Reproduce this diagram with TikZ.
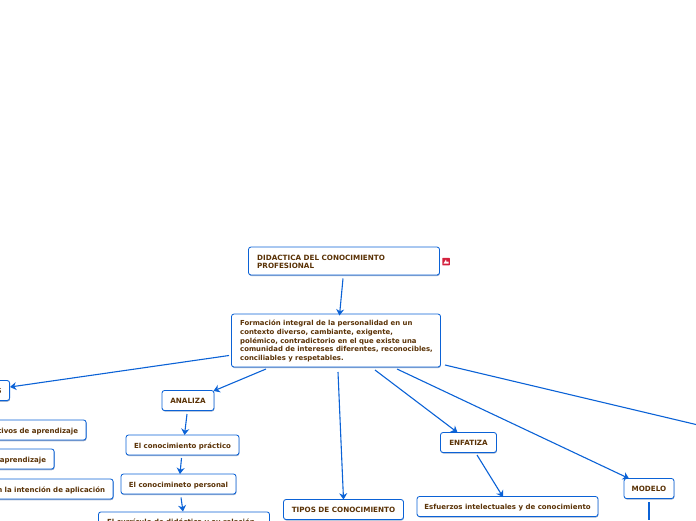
\documentclass[tikz,border=0pt]{standalone}
\usepackage{fontspec}
\setmainfont{DejaVu Sans}
\usetikzlibrary{arrows.meta,shadows}
\definecolor{linec}{HTML}{0B62D6}
\definecolor{textc}{HTML}{5A3206}
\definecolor{shadc}{HTML}{8FA3C4}
\definecolor{badgec}{HTML}{D4213D}
\tikzset{
  >={Stealth[length=2.2mm,width=2.8mm]},
  topic/.style={draw=linec,line width=0.85pt,rounded corners=2.5pt,fill=white,inner sep=0pt,
    font=\fontsize{7}{8.6}\selectfont\bfseries,text=textc,text height=6pt,text depth=0pt,
    drop shadow={shadow xshift=0.4pt,shadow yshift=-1pt,fill=shadc,opacity=0.9}},
  capstopic/.style={topic,font=\fontsize{7.2}{8.6}\selectfont\bfseries,text height=5.1pt},
  cuttopic/.style={topic,anchor=east,align=right,inner xsep=8pt,text width=#1-16},
  label/.style={anchor=west,align=left,inner sep=0pt,text=textc},
  ptr/.style={->,line width=1.1pt,draw=linec},
  ptrend/.style={line width=1.1pt,draw=linec},
}
\begin{document}
\begin{tikzpicture}[x=1pt,y=-1pt]
  \useasboundingbox (0,0) rectangle (696,520);
  \clip (0,0) rectangle (696,520);
  % top of the map
  \node[topic,minimum width=191,minimum height=28] (T) at (344,261) {};
  \node[label,font=\fontsize{7.2}{8.6}\selectfont\bfseries] (Tt) at (257,262) {DIDACTICA DEL CONOCIMIENTO\\PROFESIONAL};
  \node[fill=badgec,rounded corners=0.5pt,minimum size=7.5,inner sep=0pt] (B) at (446,261.5) {};
  \fill[white] (443.5,263.5) -- (446,259.5) -- (446.8,263.5) -- cycle (446.8,261.5) rectangle (448.6,263.6);
  \node[topic,minimum width=209,minimum height=53] (F) at (336,340.5) {};
  \node[label,font=\fontsize{6.9}{8.55}\selectfont\bfseries] (Ft) at (240,341) {Formación integral de la personalidad en un\\contexto diverso, cambiante, exigente,\\polémico, contradictorio en el que existe una\\comunidad de intereses diferentes, reconocibles,\\conciliables y respetables.};
  % left column
  \node[capstopic,cuttopic=30,minimum height=20] (L0) at (10,390.5) {S};
  \node[topic,cuttopic=180,minimum height=20] (L1) at (86.5,430) {Objetivos de aprendizaje};
  \node[topic,cuttopic=140,minimum height=20] (L2) at (54.5,459) {de aprendizaje};
  \node[topic,cuttopic=240,minimum height=20] (L3) at (113.5,489) {con la intención de aplicación};
  % ANALIZA branch
  \node[capstopic,minimum width=52,minimum height=20] (A) at (188,400.5) {ANALIZA};
  \node[topic,minimum width=113,minimum height=20] (A1) at (182.5,445) {El conocimiento práctico};
  \node[topic,minimum width=115,minimum height=20] (A2) at (178.5,484) {El conocimineto personal};
  \node[topic,minimum width=171,minimum height=21,anchor=north] (A3) at (184,511.5) {};
  \node[label,font=\fontsize{7}{8.6}\selectfont\bfseries] (A3t) at (107,522) {El currículo de didáctica y su relación};
  % middle and right
  \node[capstopic,minimum width=120,minimum height=20] (K) at (343.5,509.5) {TIPOS DE CONOCIMIENTO};
  \node[capstopic,minimum width=56,minimum height=20] (E) at (468.5,442.5) {ENFATIZA};
  \node[topic,minimum width=181,minimum height=20] (E1) at (507.5,506.5) {Esfuerzos intelectuales y de conocimiento};
  \node[capstopic,minimum width=50,minimum height=20] (M) at (649,488.5) {MODELO};
  \coordinate (Mb) at (649,520);
  \coordinate (Rr) at (696,424.5);
  % connectors
  \draw[ptr] (343,278.5) -- (339.5,315.5);
  \draw[ptr] (229,355.5) -- (10,387);
  \draw[ptr] (266,369) -- (213.5,391);
  \draw[ptr] (187,414) -- (184.5,435);
  \draw[ptr] (181.5,458) -- (180,474);
  \draw[ptr] (181,497.5) -- (183,511.5);
  \draw[ptr] (338,372) -- (343.5,499.5);
  \draw[ptr] (375,370) -- (457.5,432.5);
  \draw[ptr] (477,455) -- (503,497);
  \draw[ptr] (397,369) -- (629,478.5);
  \draw[ptrend] (445,365) -- (Rr);
  \draw[ptrend,line width=1.5pt] (649,502) -- (Mb);
\end{tikzpicture}
\end{document}
